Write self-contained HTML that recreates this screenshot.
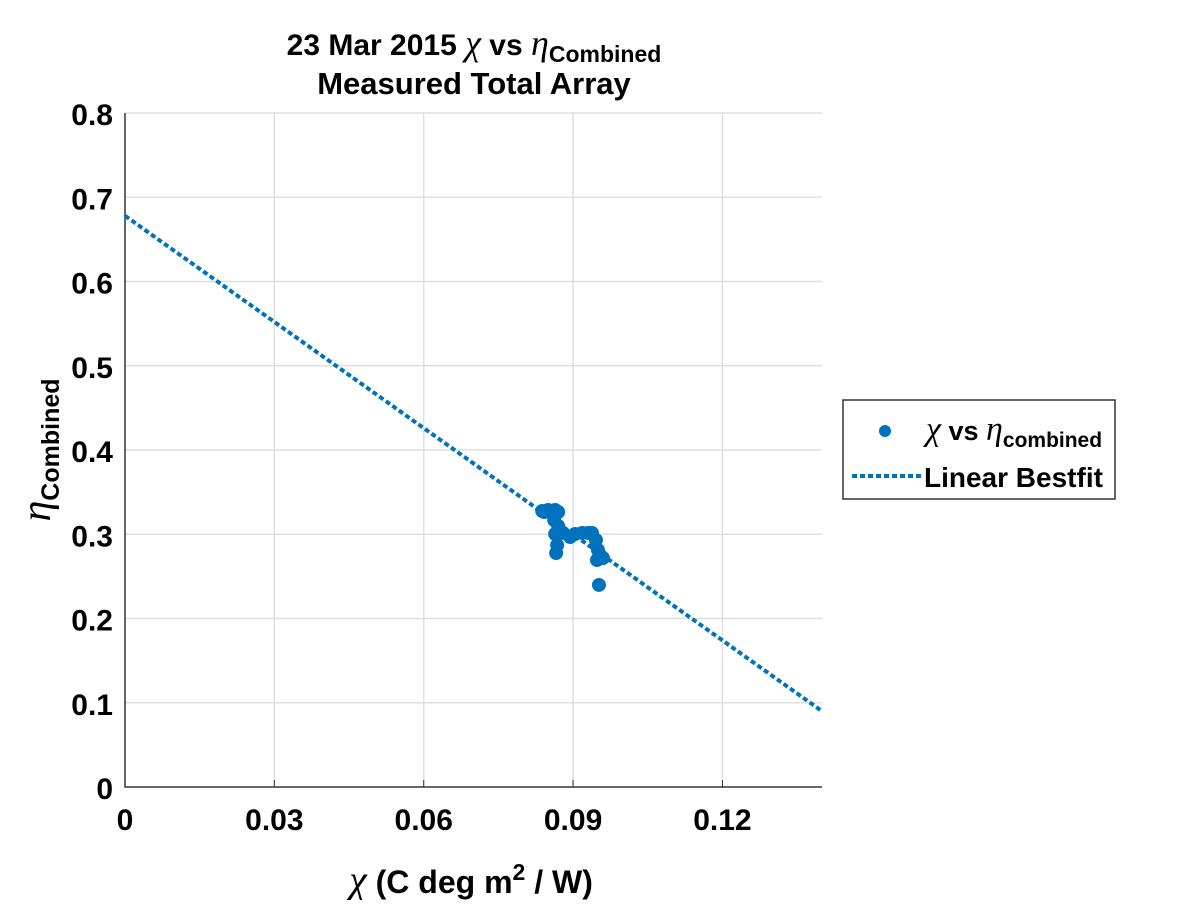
<!DOCTYPE html>
<html><head><meta charset="utf-8"><style>
body{margin:0;background:#fff}
svg text{font-family:"Liberation Sans Narrow","Liberation Sans",sans-serif;font-weight:bold;fill:#000}
.m{font-family:"Liberation Serif",serif;font-style:italic;font-weight:normal}
</style></head><body>
<svg id="chart" width="1200" height="900" viewBox="0 0 1200 900">
<g id="grid"></g>
<g id="axes"></g>
<g id="marks"></g>
<text x="474" y="55" font-size="30" text-anchor="middle">23 Mar 2015 <tspan class="m" font-size="36">χ</tspan> vs <tspan class="m" font-size="36">η</tspan><tspan font-size="23" dy="7">Combined</tspan></text>
<text x="474" y="94" font-size="31" text-anchor="middle">Measured Total Array</text>
<text x="471" y="893" font-size="32" text-anchor="middle"><tspan class="m" font-size="40">χ</tspan> (C deg m<tspan font-size="23" dy="-13">2</tspan><tspan dy="13"> / W)</tspan></text>
<text transform="translate(50,450) rotate(-90)" font-size="32" text-anchor="middle"><tspan class="m" font-size="42">η</tspan><tspan font-size="25" dy="9">Combined</tspan></text>
<g>
<rect x="843" y="400" width="272" height="99" fill="#fff" stroke="#333" stroke-width="1.5"/>
<circle cx="885" cy="431" r="6" fill="#0072BD"/>
<text x="926" y="440" font-size="27"><tspan class="m" font-size="34">χ</tspan> vs <tspan class="m" font-size="34">η</tspan><tspan font-size="21" dy="7">combined</tspan></text>
<line x1="852" y1="476" x2="921" y2="476" stroke="#0072BD" stroke-width="4" stroke-dasharray="5,3"/>
<text x="924" y="487" font-size="28">Linear Bestfit</text>
</g>
</svg>
<script>
const xTicks=[0,0.03,0.06,0.09,0.12];
const xTickLabels=["0","0.03","0.06","0.09","0.12"];
const yTicks=[0,0.1,0.2,0.3,0.4,0.5,0.6,0.7,0.8];
const yTickLabels=["0","0.1","0.2","0.3","0.4","0.5","0.6","0.7","0.8"];
const chiVals=[0.0838,0.0850,0.0864,0.0870,0.0862,0.0870,0.0864,0.0868,0.0866,0.0880,0.0894,0.0904,0.0918,0.0930,0.0938,0.0946,0.0950,0.0954,0.0948,0.0960,0.0952,0.0842];
const etaVals=[0.3276,0.3288,0.3288,0.3264,0.3169,0.3098,0.3003,0.2872,0.2777,0.3015,0.2967,0.3003,0.3015,0.3015,0.3015,0.2932,0.2813,0.2754,0.2694,0.2718,0.2398,0.3264];
const fitX=[0,0.14];
const fitY=[0.678,0.09];
const X0=125,X1=822,Y0=787,Y1=113;
const xs=v=>X0+(v-0)/0.14*(X1-X0);
const ys=v=>Y0-(v-0)/0.8*(Y0-Y1);
const NS="http://www.w3.org/2000/svg";
function mk(tag,attrs,parent){const e=document.createElementNS(NS,tag);for(const k in attrs)e.setAttribute(k,attrs[k]);document.getElementById(parent).appendChild(e);return e;}
xTicks.forEach((t,i)=>{
  if(i>0){const g=mk('line',{x1:xs(t),x2:xs(t),y1:Y1,y2:Y0,stroke:'#dfdfdf','stroke-width':1.5},'grid');
  
  }
  const tk=mk('line',{x1:xs(t),x2:xs(t),y1:Y0,y2:Y0-7,stroke:'#333','stroke-width':1},'axes');
  
  
  const l=mk('text',{x:xs(t),y:830,'font-size':30,'text-anchor':'middle'},'axes');l.textContent=xTickLabels[i];
  
  
});
yTicks.forEach((t,i)=>{
  if(i>0){const g=mk('line',{x1:X0,x2:X1,y1:ys(t),y2:ys(t),stroke:'#dfdfdf','stroke-width':1.5},'grid');
  
  }
  const l=mk('text',{x:113,y:ys(t)+12,'font-size':30,'text-anchor':'end'},'axes');l.textContent=yTickLabels[i];
  
  
});
const ax=mk('path',{d:`M${X0},${Y1}V${Y0}H${X1}`,fill:'none',stroke:'#333','stroke-width':1.5},'axes');


const fl=mk('line',{x1:xs(fitX[0]),y1:ys(fitY[0]),x2:xs(fitX[1]),y2:ys(fitY[1]),stroke:'#0072BD','stroke-width':4,'stroke-dasharray':'5,3'},'marks');


chiVals.forEach((c,i)=>{
  const p=mk('circle',{cx:xs(c),cy:ys(etaVals[i]),r:7,fill:'#0072BD'},'marks');
  
  
});
</script>
</body></html>
